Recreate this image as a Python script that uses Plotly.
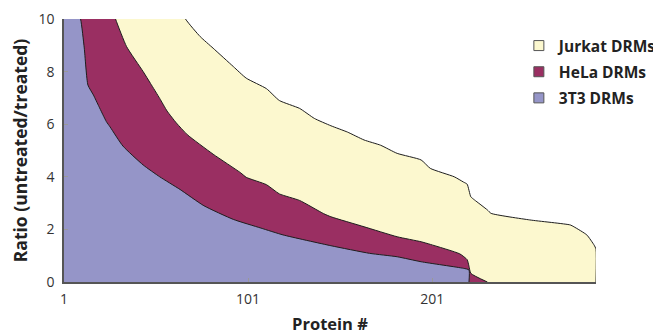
import plotly.graph_objects as go

# ---- data ----
jurkat_x = [1, 40, 67, 75, 82, 93, 100, 111, 118, 129, 137, 146, 155, 164, 173, 182, 195, 200, 213, 218, 220, 222, 224, 231, 233, 254, 276, 278, 285, 289, 290, 290]
jurkat_y = [25, 13.5, 10.0, 9.33, 8.89, 8.19, 7.75, 7.35, 6.9, 6.6, 6.22, 5.94, 5.7, 5.4, 5.2, 4.89, 4.64, 4.32, 4.0, 3.8, 3.72, 3.24, 3.12, 2.74, 2.61, 2.36, 2.17, 2.1, 1.79, 1.4, 1.25, 0]

hela_x = [1, 20, 29, 35, 44, 48, 53, 57, 62, 68, 82, 97, 100, 111, 118, 129, 142, 146, 164, 182, 195, 200, 216, 220, 221, 222, 231]
hela_y = [16, 12, 10.0, 8.95, 8.0, 7.55, 6.98, 6.5, 6.05, 5.6, 4.86, 4.15, 3.98, 3.7, 3.35, 3.1, 2.6, 2.48, 2.1, 1.72, 1.53, 1.43, 1.07, 0.85, 0.6, 0.33, 0]

t3_x = [1, 5, 10, 12, 14, 17, 20, 24, 26, 33, 44, 53, 64, 77, 93, 108, 120, 146, 167, 182, 195, 218, 221, 221]
t3_y = [13, 11, 10.0, 8.9, 7.49, 7.11, 6.67, 6.1, 5.9, 5.17, 4.45, 4.0, 3.52, 2.9, 2.38, 2.05, 1.79, 1.38, 1.09, 0.96, 0.77, 0.52, 0.46, 0]

series_names = ["Jurkat DRMs", "HeLa DRMs", "3T3 DRMs"]
x_ticks = [1, 101, 201]
y_ticks = [0, 2, 4, 6, 8, 10]

colors = ["#FCF8CF", "#9A2F62", "#9595C8"]
FONT = "Open Sans"

fig = go.Figure()
for xs, ys, col in zip([jurkat_x, hela_x, t3_x], [jurkat_y, hela_y, t3_y], colors):
    fig.add_trace(go.Scatter(x=xs, y=ys, mode="lines", fill="tozeroy",
                             fillcolor=col,
                             line=dict(color="#1e1e1e", width=1, shape="spline", smoothing=0.5),
                             showlegend=False, hoverinfo="skip"))

for i, (name, col) in enumerate(zip(series_names, colors)):
    fig.add_trace(go.Scatter(x=[None], y=[None], mode="markers", name=name,
                             legendgroup=f"g{i}",
                             marker=dict(symbol="square", size=10, color=col,
                                         line=dict(color="#555", width=1))))

fig.update_layout(
    width=661, height=335,
    margin=dict(l=56, r=73, t=11, b=61, autoexpand=False),
    plot_bgcolor="white", paper_bgcolor="white",
    font=dict(family=FONT, color="#333"),
    legend=dict(x=0.855, y=0.962, xanchor="left", yanchor="top",
                font=dict(family=FONT, size=15.5, color="#222", weight="bold"),
                tracegroupgap=3, itemwidth=30, bgcolor="rgba(0,0,0,0)"),
    xaxis=dict(range=[1, 290], tickvals=x_ticks, ticktext=[str(v) for v in x_ticks],
               ticks="inside", ticklen=4, tickcolor="#999", showline=True,
               linecolor="#555", linewidth=1.5, showgrid=False, zeroline=False,
               automargin=False, ticklabelstandoff=3,
               tickfont=dict(size=14, color="#333"),
               title=dict(text="<b>Protein #</b>", font=dict(size=16.5, color="#222"), standoff=12)),
    yaxis=dict(range=[0, 10], tickvals=y_ticks, ticks="inside", ticklen=4,
               tickcolor="#999", showline=True, linecolor="#555", linewidth=1.5,
               showgrid=False, zeroline=False, automargin=False, ticklabelstandoff=5,
               tickfont=dict(size=14, color="#333"),
               title=dict(text="<b>Ratio (untreated/treated)</b>", font=dict(size=17.5, color="#222"), standoff=9)),
)

fig.write_html("out.html")
